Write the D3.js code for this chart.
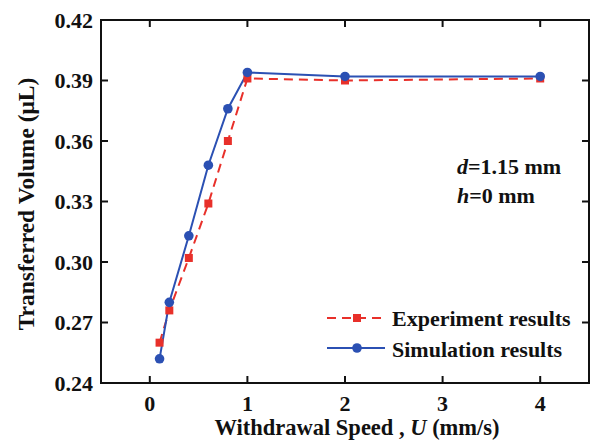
<!DOCTYPE html>
<meta charset="utf-8">
<style>
body { margin: 0; background: #fff; }
text { font-family: "Liberation Serif", "Times New Roman", serif; font-weight: bold; fill: #111; }
</style>
<body>
<script src="https://d3js.org/d3.v7.min.js"></script>
<script>

var speeds = [0.1, 0.2, 0.4, 0.6, 0.8, 1, 2, 4];
var experiment = [0.260, 0.276, 0.302, 0.329, 0.360, 0.391, 0.390, 0.391];
var simulation = [0.252, 0.280, 0.313, 0.348, 0.376, 0.394, 0.392, 0.392];
var xTicks = [0, 1, 2, 3, 4];
var yTicks = [0.24, 0.27, 0.30, 0.33, 0.36, 0.39, 0.42];

var width = 592,
    height = 442,
    margin = {top: 20, right: 3, bottom: 59, left: 101};

var red = "#e8302a",
    blue = "#2b50b3";

var svg = d3.select("body").append("svg")
    .attr("width", width)
    .attr("height", height);

var x = d3.scaleLinear()
    .domain([-0.5, 4.5])
    .range([margin.left, width - margin.right]);

var y = d3.scaleLinear()
    .domain([0.24, 0.42])
    .range([height - margin.bottom, margin.top]);

// frame
svg.append("rect")
    .attr("x", x.range()[0])
    .attr("y", y.range()[1])
    .attr("width", x.range()[1] - x.range()[0])
    .attr("height", y.range()[0] - y.range()[1])
    .attr("fill", "none")
    .attr("stroke", "#111")
    .attr("stroke-width", 2);

// ticks pointing inward on all four sides
var tk = 7;
svg.append("g").selectAll("line.bx")
    .data(xTicks).enter().append("line")
    .attr("x1", d => x(d)).attr("x2", d => x(d))
    .attr("y1", y.range()[0]).attr("y2", y.range()[0] - tk)
    .attr("stroke", "#111").attr("stroke-width", 2);
svg.append("g").selectAll("line.tx")
    .data(xTicks).enter().append("line")
    .attr("x1", d => x(d)).attr("x2", d => x(d))
    .attr("y1", y.range()[1]).attr("y2", y.range()[1] + tk)
    .attr("stroke", "#111").attr("stroke-width", 2);
svg.append("g").selectAll("line.ly")
    .data(yTicks).enter().append("line")
    .attr("x1", x.range()[0]).attr("x2", x.range()[0] + tk)
    .attr("y1", d => y(d)).attr("y2", d => y(d))
    .attr("stroke", "#111").attr("stroke-width", 2);
svg.append("g").selectAll("line.ry")
    .data(yTicks).enter().append("line")
    .attr("x1", x.range()[1]).attr("x2", x.range()[1] - tk)
    .attr("y1", d => y(d)).attr("y2", d => y(d))
    .attr("stroke", "#111").attr("stroke-width", 2);

// tick labels
svg.append("g").selectAll("text")
    .data(xTicks).enter().append("text")
    .attr("x", d => x(d))
    .attr("y", y.range()[0] + 28)
    .attr("text-anchor", "middle")
    .attr("font-size", 22)
    .text(d => d);

svg.append("g").selectAll("text")
    .data(yTicks).enter().append("text")
    .attr("x", x.range()[0] - 8)
    .attr("y", d => y(d) + 7.5)
    .attr("text-anchor", "end")
    .attr("font-size", 22)
    .text(d => d.toFixed(2));

// axis titles
var xt = svg.append("text")
    .attr("x", 357)
    .attr("y", 435)
    .attr("text-anchor", "middle")
    .attr("font-size", 22.5);
xt.append("tspan").text("Withdrawal Speed , ");
xt.append("tspan").attr("font-style", "italic").text("U");
xt.append("tspan").text(" (mm/s)");

svg.append("text")
    .attr("transform", "translate(34," + 204 + ") rotate(-90)")
    .attr("text-anchor", "middle")
    .attr("font-size", 23.5)
    .text("Transferred Volume (\u03bcL)");

// lines
var line = d3.line()
    .x(d => x(d[0]))
    .y(d => y(d[1]));

var expPts = speeds.map((s, i) => [s, experiment[i]]);
var simPts = speeds.map((s, i) => [s, simulation[i]]);

svg.append("path")
    .datum(expPts)
    .attr("d", line)
    .attr("fill", "none")
    .attr("stroke", red)
    .attr("stroke-width", 2)
    .attr("stroke-dasharray", "9,6");

svg.append("path")
    .datum(simPts)
    .attr("d", line)
    .attr("fill", "none")
    .attr("stroke", blue)
    .attr("stroke-width", 2);

svg.append("g").selectAll("rect")
    .data(expPts).enter().append("rect")
    .attr("x", d => x(d[0]) - 4)
    .attr("y", d => y(d[1]) - 4)
    .attr("width", 8)
    .attr("height", 8)
    .attr("fill", red);

svg.append("g").selectAll("circle")
    .data(simPts).enter().append("circle")
    .attr("cx", d => x(d[0]))
    .attr("cy", d => y(d[1]))
    .attr("r", 4.8)
    .attr("fill", blue);

// annotation
var a1 = svg.append("text").attr("x", 457).attr("y", 174).attr("font-size", 22);
a1.append("tspan").attr("font-style", "italic").text("d");
a1.append("tspan").text("=1.15 mm");
var a2 = svg.append("text").attr("x", 457).attr("y", 203).attr("font-size", 22);
a2.append("tspan").attr("font-style", "italic").text("h");
a2.append("tspan").text("=0 mm");

// legend
var leg = svg.append("g");
leg.append("line")
    .attr("x1", 327).attr("x2", 385).attr("y1", 318).attr("y2", 318)
    .attr("stroke", red).attr("stroke-width", 2).attr("stroke-dasharray", "9,6");
leg.append("rect")
    .attr("x", 353).attr("y", 314).attr("width", 8).attr("height", 8)
    .attr("fill", red);
leg.append("text").attr("x", 392).attr("y", 326).attr("font-size", 22)
    .text("Experiment results");
leg.append("line")
    .attr("x1", 327).attr("x2", 385).attr("y1", 348).attr("y2", 348)
    .attr("stroke", blue).attr("stroke-width", 2);
leg.append("circle")
    .attr("cx", 357).attr("cy", 348).attr("r", 4.8)
    .attr("fill", blue);
leg.append("text").attr("x", 392).attr("y", 357).attr("font-size", 22)
    .text("Simulation results");

</script>
